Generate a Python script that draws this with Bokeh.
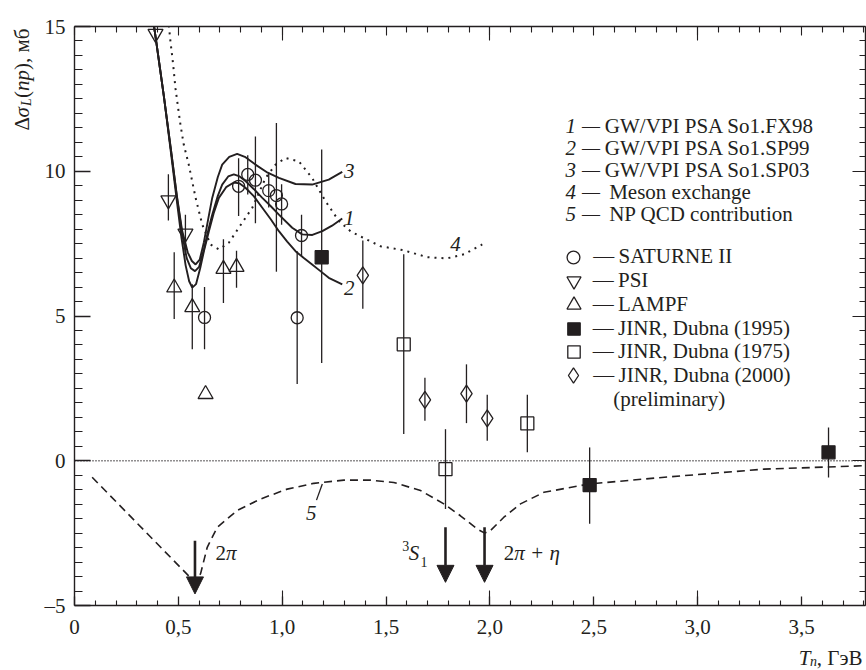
import math
from bokeh.plotting import figure
from bokeh.layouts import row, column
from bokeh.models import (LinearAxis, FixedTicker, Span, Label, Legend, LegendItem,
                          Arrow, NormalHead, ColumnDataSource, Range1d)
from bokeh.embed import file_html
from bokeh.resources import INLINE

FONT = "Liberation Serif"
INK = "#231f20"
FS = "21px"

# ---------------- axis ticks ----------------
x_major = [0, 0.5, 1.0, 1.5, 2.0, 2.5, 3.0, 3.5]
x_labels = ["0", "0,5", "1,0", "1,5", "2,0", "2,5", "3,0", "3,5"]
x_int = [1.0, 2.0, 3.0]
x_minor = [0.1, 0.2, 0.3, 0.4, 0.6, 0.7, 0.8, 0.9, 1.1, 1.2, 1.3, 1.4, 1.6, 1.7, 1.8, 1.9,
           2.1, 2.2, 2.3, 2.4, 2.6, 2.7, 2.8, 2.9, 3.1, 3.2, 3.3, 3.4, 3.6, 3.7, 3.8]
y_major = [-5, 0, 5, 10, 15]
y_labels = ["\u20135", "0", "5", "10", "15"]
y_minor = [-4.5, -4, -3.5, -3, -2.5, -2, -1.5, -1, -0.5, 0.5, 1, 1.5, 2, 2.5, 3, 3.5, 4, 4.5,
           5.5, 6, 6.5, 7, 7.5, 8, 8.5, 9, 9.5, 10.5, 11, 11.5, 12, 12.5, 13, 13.5, 14, 14.5]

# ---------------- experimental data ----------------
sat_x = [0.626, 0.79, 0.834, 0.871, 0.935, 0.972, 0.997, 1.072, 1.093]
sat_y = [4.95, 9.48, 9.89, 9.69, 9.33, 9.16, 8.87, 4.94, 7.78]
sat_lo = [3.85, 8.45, 9.2, 8.2, 8.75, 6.53, 8.15, 2.65, 7.07]
sat_hi = [6.0, 10.45, 10.55, 11.2, 9.95, 11.67, 9.55, 7.24, 8.5]

psi_x = [0.39, 0.452, 0.534]
psi_y = [14.75, 9.0, 7.85]
psi_lo = [14.75, 8.3, 7.2]
psi_hi = [14.75, 9.9, 8.5]

lampf_x = [0.48, 0.567, 0.631, 0.717, 0.78]
lampf_y = [5.98, 5.3, 2.3, 6.62, 6.69]
lampf_lo = [4.9, 3.85, 2.3, 5.45, 5.98]
lampf_hi = [7.2, 6.1, 2.3, 7.65, 7.25]

j95_x = [1.19, 2.48, 3.63]
j95_y = [7.03, -0.84, 0.29]
j95_lo = [3.38, -2.18, -0.58]
j95_hi = [10.75, 0.46, 1.15]

j75_x = [1.585, 1.786, 2.18]
j75_y = [4.02, -0.29, 1.29]
j75_lo = [0.92, -1.67, 0.29]
j75_hi = [7.13, 1.09, 2.28]

j00_x = [1.388, 1.687, 1.887, 1.987]
j00_y = [6.4, 2.1, 2.32, 1.46]
j00_lo = [5.25, 1.38, 1.3, 0.69]
j00_hi = [7.61, 2.87, 3.33, 2.28]

# ---------------- theory curves ----------------
c1_x = [0.375, 0.395, 0.43, 0.465, 0.494, 0.518, 0.54, 0.56, 0.58, 0.60, 0.623, 0.645, 0.663,
        0.69, 0.711, 0.74, 0.767, 0.795, 0.823, 0.864, 0.904, 0.944, 0.984, 1.048, 1.096,
        1.145, 1.193, 1.24, 1.289]
c1_y = [15.4, 14.4, 12.6, 10.7, 9.05, 7.85, 7.0, 6.65, 6.55, 6.7, 7.3, 8.0, 8.5, 9.15, 9.54,
        9.82, 9.89, 9.82, 9.66, 9.38, 9.08, 8.8, 8.5, 8.05, 7.82, 7.8, 7.93, 8.12, 8.37]

c2_x = [0.375, 0.395, 0.43, 0.465, 0.494, 0.515, 0.535, 0.552, 0.567, 0.585, 0.605, 0.625,
        0.647, 0.67, 0.695, 0.73, 0.767, 0.795, 0.823, 0.864, 0.904, 0.944, 0.984, 1.024,
        1.064, 1.104, 1.144, 1.184, 1.224, 1.289]
c2_y = [15.4, 14.4, 12.6, 10.6, 8.9, 7.7, 6.75, 6.2, 5.98, 6.1, 6.65, 7.3, 7.93, 8.55, 9.08,
        9.45, 9.61, 9.58, 9.43, 9.13, 8.74, 8.35, 7.93, 7.57, 7.24, 7.0, 6.78, 6.55, 6.32, 6.09]

c3_x = [0.375, 0.395, 0.43, 0.465, 0.494, 0.518, 0.545, 0.565, 0.583, 0.603, 0.623, 0.645,
        0.663, 0.69, 0.711, 0.745, 0.783, 0.82, 0.871, 0.93, 0.984, 1.064, 1.144, 1.224, 1.289]
c3_y = [15.4, 14.4, 12.6, 10.7, 9.1, 7.95, 7.2, 6.9, 6.78, 6.95, 7.55, 8.4, 9.08, 9.8, 10.23,
        10.5, 10.6, 10.5, 10.23, 9.95, 9.77, 9.56, 9.54, 9.71, 9.98]

c4_x = [0.44, 0.451, 0.462, 0.475, 0.486, 0.499, 0.51, 0.526, 0.55, 0.583, 0.615, 0.655,
        0.695, 0.743, 0.791, 0.856, 0.92, 0.968, 1.016, 1.08, 1.144, 1.208, 1.273, 1.33,
        1.385, 1.473, 1.585, 1.698, 1.794, 1.875, 1.963]
c4_y = [16.0, 15.26, 14.48, 13.68, 12.87, 12.18, 11.61, 10.92, 10.23, 9.08, 8.16, 7.47, 7.3,
        7.53, 8.05, 8.74, 9.77, 10.23, 10.46, 10.34, 9.77, 8.97, 8.28, 7.92, 7.72, 7.41, 7.27,
        7.03, 6.99, 7.13, 7.47]

c5_x = [0.085, 0.58, 0.607, 0.639, 0.687, 0.783, 0.896, 1.024, 1.152, 1.297, 1.425, 1.537,
        1.666, 1.778, 1.858, 1.939, 1.975, 2.003, 2.067, 2.147, 2.26, 2.48, 2.84, 3.32, 3.81]
c5_y = [-0.57, -4.2, -3.9, -2.99, -2.3, -1.72, -1.32, -0.98, -0.78, -0.67, -0.67, -0.75,
        -1.03, -1.49, -1.9, -2.36, -2.5, -2.41, -1.95, -1.49, -1.09, -0.8, -0.57, -0.29, -0.17]

leader5_x = [1.193, 1.165]
leader5_y = [-0.8, -1.36]

# thresholds marked by arrows
arrow_x = [0.58, 1.786, 1.974]
arrow_top = [-2.76, -2.3, -2.3]
arrow_tip = [-4.6, -4.2, -4.2]

# ---------------- main figure ----------------
p = figure(width=828, height=645, x_range=(0, 3.808), y_range=(-5, 15),
           output_backend="svg", toolbar_location=None,
           min_border_left=36, min_border_right=1, min_border_top=26, min_border_bottom=40)
p.xgrid.grid_line_color = None
p.ygrid.grid_line_color = None
p.outline_line_color = None
p.background_fill_color = "white"
p.border_fill_color = "white"


def style_axis(ax, major_in, minor_in, line=True):
    ax.axis_line_color = INK if line else None
    ax.axis_line_width = 1.4
    ax.major_tick_line_color = INK
    ax.minor_tick_line_color = INK
    ax.major_tick_line_width = 1.3
    ax.minor_tick_line_width = 1.1
    ax.major_tick_in = major_in
    ax.major_tick_out = 0
    ax.minor_tick_in = minor_in
    ax.minor_tick_out = 0
    ax.major_label_text_font = FONT
    ax.major_label_text_font_size = FS
    ax.major_label_text_color = INK


def tick_only_axis(ticks, length, line):
    ax = LinearAxis(ticker=FixedTicker(ticks=[], minor_ticks=ticks))
    style_axis(ax, 0, length, line)
    ax.major_label_standoff = 0
    return ax


xb = p.xaxis[0]
xb.ticker = FixedTicker(ticks=x_major, minor_ticks=x_minor)
xb.major_label_overrides = dict(zip(x_major, x_labels))
style_axis(xb, 9, 5)
xb.major_label_standoff = 14
p.below = [tick_only_axis(x_int, 15, False), xb]

yl = p.yaxis[0]
yl.ticker = FixedTicker(ticks=y_major, minor_ticks=y_minor)
yl.major_label_overrides = dict(zip(y_major, y_labels))
style_axis(yl, 16, 8)
yl.major_label_standoff = 9

p.above = [tick_only_axis(x_int, 14, True), tick_only_axis(x_major, 9, False),
           tick_only_axis(x_minor, 6, False)]
p.right = [tick_only_axis(y_major, 13, True), tick_only_axis(y_minor, 6, False)]

# zero line
p.add_layout(Span(location=0, dimension="width", line_color=INK, line_width=1.3,
                  line_dash="1 2"))

# theory curves
for cx, cy in [(c1_x, c1_y), (c2_x, c2_y), (c3_x, c3_y)]:
    p.line(cx, cy, line_color=INK, line_width=1.9)
p.line(c4_x, c4_y, line_color=INK, line_width=2.0, line_dash="2 5")
p.line(c5_x, c5_y, line_color=INK, line_width=1.6, line_dash="8 5")
p.line(leader5_x, leader5_y, line_color=INK, line_width=1.3)

# error bars
for ex, elo, ehi in [(sat_x, sat_lo, sat_hi), (psi_x, psi_lo, psi_hi),
                     (lampf_x, lampf_lo, lampf_hi), (j95_x, j95_lo, j95_hi),
                     (j75_x, j75_lo, j75_hi), (j00_x, j00_lo, j00_hi)]:
    p.segment(x0=ex, y0=elo, x1=ex, y1=ehi, line_color=INK, line_width=1.3)

# markers
mk = dict(line_color=INK, line_width=1.3)
r_sat = p.scatter(sat_x, sat_y, marker="circle", size=12, fill_color=None, **mk)
r_psi = p.scatter(psi_x, psi_y, marker="inverted_triangle", size=15, fill_color=None, **mk)
r_lampf = p.scatter(lampf_x, lampf_y, marker="triangle", size=15, fill_color=None, **mk)
r_j95 = p.scatter(j95_x, j95_y, marker="square", size=13, fill_color=INK, **mk)
r_j75 = p.scatter(j75_x, j75_y, marker="square", size=13, fill_color=None, **mk)
r_j00 = p.scatter(j00_x, j00_y, marker="diamond", size=17, fill_color=None, **mk)

# arrows
asrc = ColumnDataSource(dict(x=arrow_x, y0=arrow_top, y1=arrow_tip))
p.add_layout(Arrow(x_start="x", y_start="y0", x_end="x", y_end="y1", source=asrc,
                   line_color=INK, line_width=2.6,
                   end=NormalHead(size=17, fill_color=INK, line_color=INK, line_width=1)))


def txt(fig, x, y, text, size=FS, style="normal", align="left", baseline="middle", angle=0.0):
    fig.add_layout(Label(x=x, y=y, text=text, text_font=FONT, text_font_size=size,
                         text_font_style=style, text_align=align, text_baseline=baseline,
                         angle=angle, text_color=INK))


# curve numbers
txt(p, 1.297, 10.0, "3", style="italic")
txt(p, 1.297, 8.37, "1", style="italic")
txt(p, 1.297, 5.98, "2", style="italic")
txt(p, 1.834, 7.47, "4", style="italic", align="center")
txt(p, 1.14, -1.81, "5", style="italic", align="center")

# arrow labels
txt(p, 0.679, -3.2, "2")
txt(p, 0.729, -3.2, "\u03c0", style="italic")
txt(p, 1.578, -2.95, "3", size="14px")
txt(p, 1.609, -3.2, "S", style="italic")
txt(p, 1.666, -3.5, "1", size="14px")
txt(p, 2.067, -3.2, "2")
txt(p, 2.117, -3.2, "\u03c0 + \u03b7", style="italic")

# curve legend (top right)
curve_nums = ["1", "2", "3", "4", "5"]
curve_names = ["GW/VPI PSA So1.FX98", "GW/VPI PSA So1.SP99", "GW/VPI PSA So1.SP03",
               "Meson exchange", "NP QCD contribution"]
curve_rows = [11.55, 10.79, 10.03, 9.28, 8.52]
curve_text_x = [2.553, 2.553, 2.553, 2.574, 2.574]
for n, name, yy, tx in zip(curve_nums, curve_names, curve_rows, curve_text_x):
    txt(p, 2.364, yy, n, style="italic")
    txt(p, 2.443, yy, "\u2014", size="18px")
    txt(p, tx, yy, name)

# marker legend: one Legend per row so the rows sit where the reference has them
# (glyph box size sets the drawn key size: key = 0.4 * box)
marker_items = [("SATURNE II", r_sat), ("PSI", r_psi), ("LAMPF", r_lampf),
                ("JINR, Dubna (1995)", r_j95), ("JINR, Dubna (1975)", r_j75),
                ("JINR, Dubna (2000)", r_j00)]
marker_row_centers = [256.7, 280.0, 304.0, 328.3, 351.7, 375.0]   # page px
marker_key_boxes = [32, 35, 35, 31, 31, 38]
for (name, rend), c, g in zip(marker_items, marker_row_centers, marker_key_boxes):
    lg = Legend(items=[LegendItem(label="\u2014\u2009" + name, renderers=[rend])],
                location=(573.3 - g / 2 - 74, 605 - c - g / 2),
                glyph_width=g, glyph_height=g, padding=0, margin=0,
                label_standoff=int(round(593 - (573.3 + g / 2))),
                label_text_font=FONT, label_text_font_size=FS,
                label_text_color=INK, border_line_color=None, background_fill_alpha=0)
    p.add_layout(lg)
txt(p, 2.594, 2.14, "(preliminary)")

# ---------------- y-axis title strip (coordinates = page pixels) ----------------
ly = figure(width=38, height=670, x_range=Range1d(0, 38), y_range=Range1d(670, 0),
            output_backend="svg", toolbar_location=None, x_axis_type=None, y_axis_type=None,
            min_border=0)
ly.outline_line_color = None
ly.background_fill_color = "white"
ly.border_fill_color = "white"
A = math.pi / 2
txt(ly, 21, 130, "\u0394", angle=A)
txt(ly, 21, 117, "\u03c3", style="italic", angle=A)
txt(ly, 26, 105.5, "L", size="14px", style="italic", angle=A)
txt(ly, 21, 97.5, "(", angle=A)
txt(ly, 21, 90.5, "np", style="italic", angle=A)
txt(ly, 21, 69.5, "), \u043c\u0431", angle=A)

# ---------------- x-axis title strip (coordinates = page pixels) ----------------
lx = figure(width=828, height=25, x_range=Range1d(38, 866), y_range=Range1d(670, 645),
            output_backend="svg", toolbar_location=None, x_axis_type=None, y_axis_type=None,
            min_border=0)
lx.outline_line_color = None
lx.background_fill_color = "white"
lx.border_fill_color = "white"
txt(lx, 796, 657, "T", style="italic", baseline="alphabetic")
txt(lx, 808, 661, "n", size="14px", style="italic", baseline="alphabetic")
txt(lx, 815, 657, ", \u0413\u044d\u0412", baseline="alphabetic")

layout = row(ly, column(p, lx))
open("out.html", "w").write(file_html(layout, INLINE))
